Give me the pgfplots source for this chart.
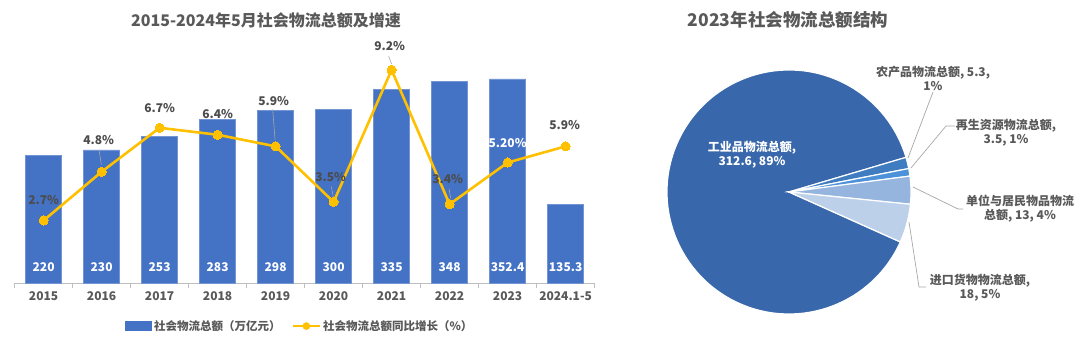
\documentclass[border=0pt]{standalone}
\usepackage{pgfplots}
\pgfplotsset{compat=1.18}
\usepackage{pgfplotstable}
\usepackage{fontspec}
\setmainfont{Noto Sans CJK SC}
\definecolor{barblue}{HTML}{4472C4}
\definecolor{lineyel}{HTML}{FFC000}
\definecolor{txtgray}{HTML}{595959}
\definecolor{axgray}{HTML}{BFBFBF}
\definecolor{leadgray}{HTML}{A6A6A6}
\definecolor{pInd}{HTML}{3967AB}
\definecolor{pAgr}{HTML}{3F7DC0}
\definecolor{pRen}{HTML}{4D92D9}
\definecolor{pUni}{HTML}{95B5DE}
\definecolor{pImp}{HTML}{BCD0EA}

\pgfplotstableread{
x total
0 220
1 230
2 253
3 283
4 298
5 300
6 335
7 348
8 352.4
9 135.3
}\bartable

\pgfplotstableread{
x g
0 2.7
1 4.8
2 6.7
3 6.4
4 5.9
5 3.5
6 9.2
7 3.4
8 5.2
9 5.9
}\growtable

\pgfplotstableread{
x g dx dy lab
0 2.7 0 20 2.7
1 4.8 -3 32 4.8
2 6.7 0 20 6.7
3 6.4 0 21 6.4
4 5.9 -2 45 5.9
5 3.5 -3 25 3.5
6 9.2 -2 24 9.2
7 3.4 -2 25 3.4
9 5.9 -1 21 5.9
}\labtable

% pie values: industrial, agricultural, renewable, unit & resident, import
\def\vInd{312.6}
\def\vAgr{5.3}
\def\vRen{3.5}
\def\vUni{13}
\def\vImp{18}
\pgfmathsetmacro\tot{\vInd+\vAgr+\vRen+\vUni+\vImp}
\pgfmathsetmacro\aA{16.5}
\pgfmathsetmacro\aB{\aA-\vAgr/\tot*360}
\pgfmathsetmacro\aC{\aB-\vRen/\tot*360}
\pgfmathsetmacro\aD{\aC-\vUni/\tot*360}
\pgfmathsetmacro\aE{\aD-\vImp/\tot*360}
\pgfmathsetmacro\aF{\aE-\vInd/\tot*360}

\begin{document}
\begin{tikzpicture}
\useasboundingbox (0pt,0pt) rectangle (1080pt,347pt);

% titles
\node[text=txtgray, font=\fontsize{16}{19}\selectfont\bfseries] at (266pt,327pt) {2015-2024年5月社会物流总额及增速};
\node[text=txtgray, font=\fontsize{17.5}{20}\selectfont\bfseries] at (788pt,327pt) {2023年社会物流总额结构};

% bar axis
\begin{axis}[
  at={(14.6pt,64pt)}, anchor=south west,
  width=580pt, height=231.6pt, scale only axis,
  xmin=-0.5, xmax=9.5, ymin=0, ymax=400,
  axis x line*=bottom, axis y line=none,
  axis line style={axgray, line width=0.8pt},
  xtick={0,1,2,3,4,5,6,7,8,9},
  xticklabels={2015,2016,2017,2018,2019,2020,2021,2022,2023,2024.1-5},
  major tick length=0pt,
  extra x ticks={-0.5,0.5,1.5,2.5,3.5,4.5,5.5,6.5,7.5,8.5,9.5},
  extra x tick labels={},
  extra x tick style={major tick length=5pt, tick align=outside, tick style={axgray, line width=0.8pt}},
  xticklabel style={text=txtgray, font=\fontsize{12}{14}\selectfont\bfseries, yshift=-5pt},
  clip=false,
  legend style={at={(0.492,-0.186)}, anchor=center, draw=none, fill=none,
    legend columns=-1, font=\fontsize{11.5}{13}\selectfont\bfseries, text=txtgray,
    /tikz/every even column/.append style={column sep=9pt},
    legend cell align=left},
]
\addplot[ybar, bar width=36pt, fill=barblue, draw=barblue!75!white, line width=0.6pt,
  legend image code/.code={\fill[barblue] (0pt,-4.5pt) rectangle (26pt,4.5pt);}]
  table[x=x, y=total] \bartable;
\addlegendimage{legend image code/.code={\draw[lineyel, line width=2.5pt] (0pt,0pt) -- (27pt,0pt); \fill[lineyel] (13.5pt,0pt) circle (3.6pt);}}
\addplot[draw=none, forget plot, nodes near coords, point meta=explicit symbolic,
  every node near coord/.append style={anchor=center, text=white, font=\fontsize{12}{14}\selectfont\bfseries}]
  coordinates {(0,27.6)[220] (1,27.6)[230] (2,27.6)[253] (3,27.6)[283] (4,27.6)[298]
    (5,27.6)[300] (6,27.6)[335] (7,27.6)[348] (8,27.6)[352.4] (9,27.6)[135.3]};
\legend{社会物流总额（万亿元）,社会物流总额同比增长（\%）}
\end{axis}

% line axis
\begin{axis}[
  at={(14.6pt,64pt)}, anchor=south west,
  width=580pt, height=231.6pt, scale only axis,
  xmin=-0.5, xmax=9.5, ymin=0, ymax=10,
  hide axis, clip=false,
]
\addplot[leadgray, line width=0.6pt, forget plot] coordinates {(0.956,5.76) (0.996,5.11)};
\addplot[leadgray, line width=0.6pt, forget plot] coordinates {(3.95,7.50) (3.99,6.20)};
\addplot[leadgray, line width=0.6pt, forget plot] coordinates {(4.96,4.16) (4.995,3.73)};
\addplot[leadgray, line width=0.6pt, forget plot] coordinates {(5.95,9.79) (6.0,9.45)};
\addplot[leadgray, line width=0.6pt, forget plot] coordinates {(6.99,4.07) (7.02,3.64)};
\addplot[lineyel, line width=2.6pt, mark=*, mark size=4.6pt, mark options={fill=lineyel, draw=lineyel, line width=0pt}]
  table[x=x, y=g] \growtable;
\addplot[draw=none, forget plot, nodes near coords={\pgfplotspointmeta\%}, point meta=explicit symbolic,
  visualization depends on=\thisrow{dx} \as \dx,
  visualization depends on=\thisrow{dy} \as \dy,
  every node near coord/.append style={anchor=center, xshift=\dx pt, yshift=\dy pt, text=txtgray!85!black, font=\fontsize{12}{14}\selectfont\bfseries}]
  table[x=x, y=g, meta=lab] \labtable;
\addplot[draw=none, forget plot, nodes near coords={\pgfplotspointmeta\%}, point meta=explicit symbolic,
  every node near coord/.append style={anchor=center, yshift=20pt, text=white, font=\fontsize{12}{14}\selectfont\bfseries}]
  coordinates {(8,5.2)[5.20]};
\end{axis}

% pie axis (coordinates = picture points)
\begin{axis}[
  at={(640pt,0pt)}, anchor=south west,
  x=1pt, y=1pt, xmin=640, xmax=1080, ymin=0, ymax=347,
  hide axis, clip=false,
]
\fill[pInd, draw=white, line width=1.2pt] (axis cs:789,155) -- ++(\aE:122pt) arc[start angle=\aE, end angle=\aF, radius=122pt] -- cycle;
\fill[pAgr, draw=white, line width=1.2pt] (axis cs:789,155) -- ++(\aA:122pt) arc[start angle=\aA, end angle=\aB, radius=122pt] -- cycle;
\fill[pRen, draw=white, line width=1.2pt] (axis cs:789,155) -- ++(\aB:122pt) arc[start angle=\aB, end angle=\aC, radius=122pt] -- cycle;
\fill[pUni, draw=white, line width=1.2pt] (axis cs:789,155) -- ++(\aC:122pt) arc[start angle=\aC, end angle=\aD, radius=122pt] -- cycle;
\fill[pImp, draw=white, line width=1.2pt] (axis cs:789,155) -- ++(\aD:122pt) arc[start angle=\aD, end angle=\aE, radius=122pt] -- cycle;

\addplot[leadgray, line width=0.7pt] coordinates {(933,255) (908,189)};
\addplot[leadgray, line width=0.7pt] coordinates {(955,221) (946,221) (911,179)};
\addplot[leadgray, line width=0.7pt] coordinates {(913,160) (958,138) (963,138)};
\addplot[leadgray, line width=0.7pt] coordinates {(909,125) (919,60) (926,60)};

\node[align=center, text=white, font=\fontsize{12}{14}\selectfont\bfseries] at (axis cs:752,192) {工业品物流总额,\\312.6, 89\%};
\node[align=center, text=txtgray, font=\fontsize{12}{14}\selectfont\bfseries] at (axis cs:933,269) {农产品物流总额, 5.3,\\1\%};
\node[align=center, text=txtgray, font=\fontsize{12}{14}\selectfont\bfseries] at (axis cs:1006,214) {再生资源物流总额,\\3.5, 1\%};
\node[align=center, text=txtgray, font=\fontsize{12}{14}\selectfont\bfseries] at (axis cs:1020,138) {单位与居民物品物流\\总额, 13, 4\%};
\node[align=center, text=txtgray, font=\fontsize{12}{14}\selectfont\bfseries] at (axis cs:980,59) {进口货物物流总额,\\18, 5\%};
\end{axis}
\end{tikzpicture}
\end{document}
